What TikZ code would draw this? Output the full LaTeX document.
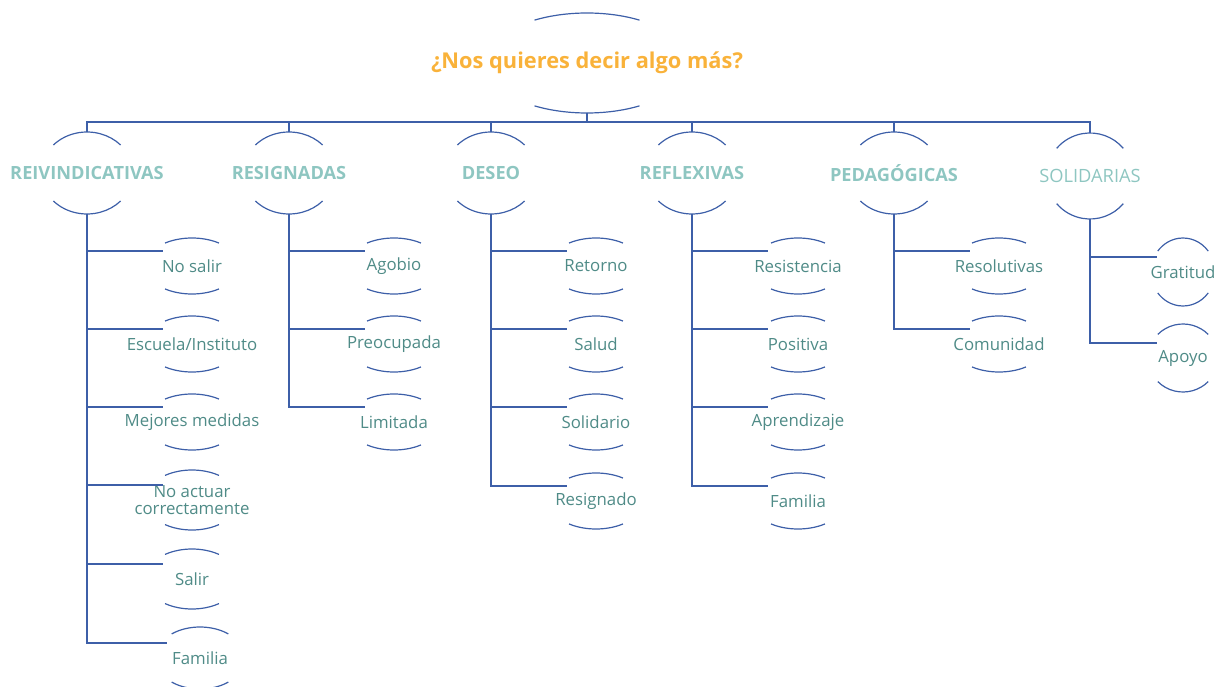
\documentclass[tikz,border=0pt]{standalone}
\usepackage{fontspec}
\setmainfont{Open Sans}
\usetikzlibrary{calc}
\definecolor{lnC}{HTML}{3D5FA8}
\definecolor{titleC}{HTML}{F9B23A}
\definecolor{catC}{HTML}{8EC6C1}
\definecolor{leafC}{HTML}{4F8B87}
\tikzset{
  ln/.style={draw=lnC, line width=1.2pt},
  titletxt/.style={font=\fontsize{21.8}{24}\selectfont\bfseries, text=titleC, inner sep=0pt},
  cattxt/.style={font=\fontsize{18.2}{20}\selectfont\bfseries, text=catC, inner sep=0pt},
  catlight/.style={font=\fontsize{18.3}{20}\selectfont, text=catC, inner sep=0pt},
  leaftxt/.style={font=\fontsize{16.8}{16.5}\selectfont, text=leafC, align=center, inner sep=0pt}
}
% arcs above and below a node: name, rx, ry, half-angle
\newcommand\twoarcs[4]{%
  \draw[ln] ([shift={(#4:#2pt and #3pt)}]#1.center) arc[start angle=#4, end angle=180-#4, x radius=#2pt, y radius=#3pt];
  \draw[ln] ([shift={(-#4:#2pt and #3pt)}]#1.center) arc[start angle=-#4, end angle=-180+#4, x radius=#2pt, y radius=#3pt];
  \coordinate (#1-top) at ($(#1.center)+(0,-#3)$);
  \coordinate (#1-bot) at ($(#1.center)+(0,#3)$);
}
% leaf: name, x, y, text, rx, ry, half-angle, branch dx
\newcommand\leafnode[8]{%
  \node[leaftxt] (#1) at (#2,#3) {#4};
  \twoarcs{#1}{#5}{#6}{#7}
  \coordinate (#1-in) at ($(#1.center)+(#8,-15)$);
}
\begin{document}
\begin{tikzpicture}[x=1pt,y=-1pt]
\useasboundingbox (0,0) rectangle (1216,687);

% title
\node[titletxt] (T) at (587,63) {¿Nos quieres decir algo más?};
\twoarcs{T}{102}{50}{59}

% categories
\node[cattxt] (c1) at (87,173) {REIVINDICATIVAS};   \twoarcs{c1}{46}{41}{43}
\node[cattxt] (c2) at (289,173) {RESIGNADAS};       \twoarcs{c2}{46}{41}{43}
\node[cattxt] (c3) at (491,173) {DESEO};            \twoarcs{c3}{46}{41}{43}
\node[cattxt] (c4) at (692,173) {REFLEXIVAS};       \twoarcs{c4}{46}{41}{43}
\node[cattxt] (c5) at (894,173) {PEDAGÓGICAS};      \twoarcs{c5}{46}{41}{43}
\node[catlight] (c6) at (1090,176) {SOLIDARIAS};    \twoarcs{c6}{43.5}{43}{40}

\coordinate (bus) at (587,122);
\foreach \c in {c1,c2,c3,c4,c5,c6}{
  \draw[ln] (T-bot) -- (bus) -| (\c-top);
}

% leaves column 1
\leafnode{a1}{192}{266}{No salir}{47}{28}{55}{-29}
\leafnode{a2}{192}{344}{Escuela/Instituto}{47}{28}{55}{-29}
\leafnode{a3}{192}{422}{Mejores medidas}{47}{28}{55}{-29}
\leafnode{a4}{192}{500}{No actuar\\correctamente}{47}{30}{55}{-29}
\leafnode{a5}{192}{579}{Salir}{47}{30}{55}{-29}
\leafnode{a6}{200}{658}{Familia}{45}{31}{51}{-33}
\foreach \l in {a1,a2,a3,a4,a5,a6}{ \draw[ln] (c1-bot) |- (\l-in); }

% column 2
\leafnode{b1}{394}{266}{Agobio}{47}{28}{55}{-29}
\leafnode{b2}{394}{344}{Preocupada}{47}{28}{55}{-29}
\leafnode{b3}{394}{422}{Limitada}{47}{28}{55}{-29}
\foreach \l in {b1,b2,b3}{ \draw[ln] (c2-bot) |- (\l-in); }

% column 3
\leafnode{d1}{596}{266}{Retorno}{47}{28}{55}{-29}
\leafnode{d2}{596}{344}{Salud}{47}{28}{55}{-29}
\leafnode{d3}{596}{422}{Solidario}{47}{28}{55}{-29}
\leafnode{d4}{596}{501}{Resignado}{47}{28}{55}{-29}
\foreach \l in {d1,d2,d3,d4}{ \draw[ln] (c3-bot) |- (\l-in); }

% column 4
\leafnode{e1}{798}{266}{Resistencia}{47}{28}{55}{-30}
\leafnode{e2}{798}{344}{Positiva}{47}{28}{55}{-30}
\leafnode{e3}{798}{422}{Aprendizaje}{47}{28}{55}{-30}
\leafnode{e4}{798}{501}{Familia}{47}{28}{55}{-30}
\foreach \l in {e1,e2,e3,e4}{ \draw[ln] (c4-bot) |- (\l-in); }

% column 5
\leafnode{f1}{999}{266}{Resolutivas}{47}{28}{55}{-29}
\leafnode{f2}{999}{344}{Comunidad}{47}{28}{55}{-29}
\foreach \l in {f1,f2}{ \draw[ln] (c5-bot) |- (\l-in); }

% column 6
\leafnode{g1}{1183}{272}{Gratitud}{32}{34}{38}{-26}
\leafnode{g2}{1183}{358}{Apoyo}{35}{34}{44}{-26}
\draw[ln] (c6-bot) |- (g1-in);
\draw[ln] (c6-bot) |- (g2-in);
\end{tikzpicture}
\end{document}
